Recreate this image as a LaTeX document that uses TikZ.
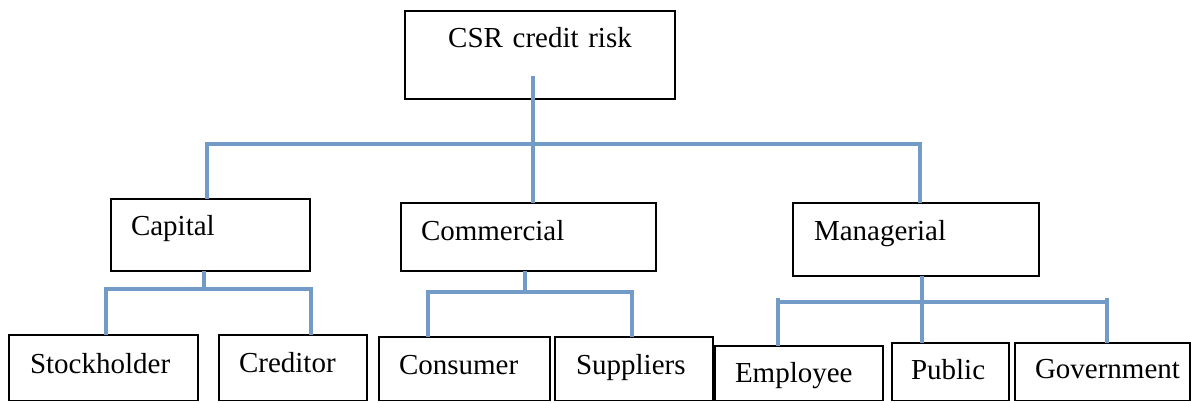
\documentclass[tikz,border=0pt]{standalone}
\usepackage{fontspec}
\setmainfont{Liberation Serif}
\definecolor{linkblue}{RGB}{114,156,199}
\tikzset{
  box/.style={draw=black, line width=1.7pt, anchor=north west, inner sep=0pt, outer sep=0pt,
    align=left, font=\fontsize{29}{34}\selectfont},
  dims/.style n args={4}{text width=#1pt, text height=#2pt, text depth=#3pt,
    execute at begin node={\noindent\hspace*{#4pt}}},
  link/.style={draw=linkblue, line width=3.2pt}
}
\begin{document}
\begin{tikzpicture}[x=1pt, y=-1pt]
\useasboundingbox (0,0) rectangle (1191,402);
% boxes
\node[box, dims={270}{36}{52}{0}, align=center] (top) at (405,11) {CSR credit risk};
\node[box, dims={199}{36}{36}{20}] (cap) at (111,199) {Capital};
\node[box, dims={255}{37}{31}{20}] (com) at (401,203) {Commercial};
\node[box, dims={246}{37}{36}{21}] (man) at (793,203) {Managerial};
\node[box, dims={189}{38}{27.5}{21}] (stk) at (9,335) {Stockholder};
\node[box, dims={148}{37}{28.5}{20}] (cre) at (219,335) {Creditor};
\node[box, dims={171}{37}{26.5}{20}] (con) at (379,337) {Consumer};
\node[box, dims={158}{37}{26.5}{21}] (sup) at (555,337) {Suppliers};
\node[box, dims={168}{36}{18.5}{20}] (emp) at (715,346) {Employee};
\node[box, dims={117}{36}{21.5}{19}] (pub) at (892,343) {Public};
\node[box, dims={175}{35}{22.5}{20}] (gov) at (1015,343) {Government};
% top level connectors
\coordinate (t0) at (533,76);
\coordinate (bL) at (207,144);
\coordinate (bR) at (920,144);
\draw[link] (t0) -- (t0 |- com.north);
\draw[link] (bL |- cap.north) -- (bL) -- (bR) -- (bR |- man.north);
% capital
\coordinate (cj) at (204,289);
\coordinate (cL) at (106,289);
\coordinate (cR) at (311,289);
\draw[link] (cj |- cap.south) -- (cj);
\draw[link] (cL |- stk.north) -- (cL) -- (cR) -- (cR |- cre.north);
% commercial
\coordinate (kj) at (525,292);
\coordinate (kL) at (428,292);
\coordinate (kR) at (632,292);
\draw[link] (kj |- com.south) -- (kj);
\draw[link] (kL |- con.north) -- (kL) -- (kR) -- (kR |- sup.north);
% managerial
\coordinate (mj) at (922,302);
\coordinate (mL) at (778,298);
\coordinate (mR) at (1107,298);
\coordinate (mLh) at (778,302);
\coordinate (mRh) at (1107,302);
\draw[link] (mj |- man.south) -- (mj) -- (mj |- pub.north);
\draw[link] (mLh) -- (mRh);
\draw[link] (mL) -- (mL |- emp.north);
\draw[link] (mR) -- (mR |- gov.north);
\end{tikzpicture}
\end{document}
